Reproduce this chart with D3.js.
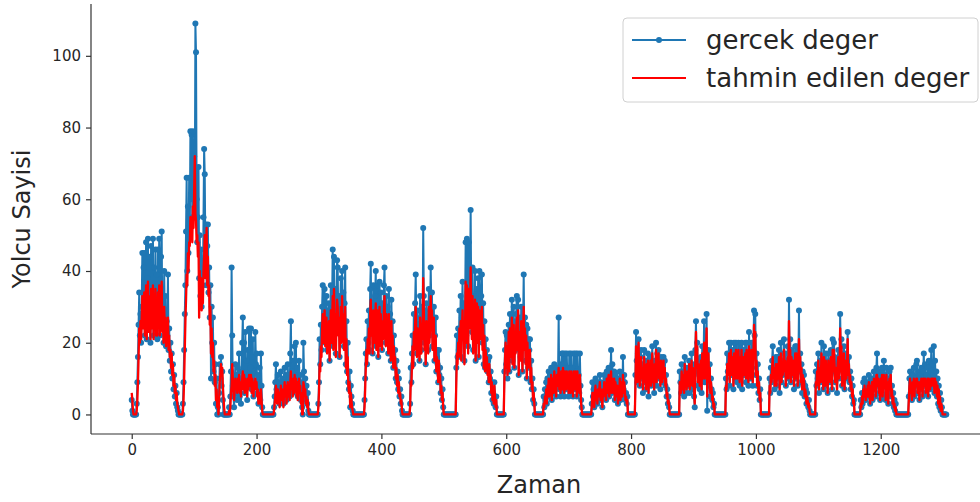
<!DOCTYPE html>
<html>
<head>
<meta charset="utf-8">
<script src="https://cdn.jsdelivr.net/npm/d3@7"></script>
<style>
  html, body { margin: 0; padding: 0; background: #fff; }
  svg { display: block; font-family: "DejaVu Sans", sans-serif; }
</style>
</head>
<body>
<svg id="chart" width="980" height="502"></svg>
<script>
// ---- Data ----
const seriesNames = ["gercek deger", "tahmin edilen deger"];
const xTickValues = [0, 200, 400, 600, 800, 1000, 1200];
const yTickValues = [0, 20, 40, 60, 80, 100];
const xLabel = "Zaman";
const yLabel = "Yolcu Sayisi";

// gercek deger (actual), one value per time step 0..1305
const realValues = [
4,1,0,0,0,0,0,0,3,9,
16,25,34,22,28,20,30,45,26,41,
45,22,33,48,21,38,49,24,44,30,
20,47,27,36,49,22,41,28,46,25,
39,21,46,30,49,22,35,44,51,24,
31,20,40,27,33,19,26,22,39,18,
24,15,20,12,17,10,14,7,11,5,
8,3,6,2,1,0,0,0,0,0,
0,0,3,9,18,28,36,51,66,40,
58,45,66,50,79,60,78,55,79,62,
72,58,109,101,60,48,55,69,38,50,
33,46,30,42,36,55,74,67,44,53,
36,47,53,34,41,27,36,10,30,20,
27,12,20,9,14,3,10,0,2,0,
6,14,10,16,8,12,4,0,0,0,
0,0,0,0,0,0,2,0,5,12,
41,22,8,5,2,9,14,6,11,4,
13,8,17,5,10,3,12,20,27,9,
20,6,23,10,15,4,18,8,24,11,
13,24,7,16,21,5,12,9,23,14,
17,6,11,3,9,13,4,17,8,2,
0,0,0,0,0,0,0,0,0,0,
0,0,0,0,0,0,0,0,2,5,
9,14,7,4,11,6,9,3,8,12,
5,10,7,3,9,13,6,11,4,8,
14,7,10,5,17,26,9,12,6,15,
8,19,11,20,7,13,5,10,15,8,
11,4,9,2,0,20,12,7,10,4,
8,3,6,1,0,0,0,0,0,0,
0,0,0,0,0,0,0,0,0,3,
9,21,14,25,18,30,36,22,28,35,
20,26,33,18,29,24,31,15,27,36,
22,31,46,19,44,28,35,17,30,43,
41,25,33,16,29,38,22,40,27,34,
19,31,41,14,26,12,20,9,7,12,
2,8,5,3,1,0,0,0,0,0,
0,0,0,0,0,0,0,0,0,0,
0,0,0,4,10,17,21,14,26,20,
29,18,35,42,24,31,17,36,28,22,
33,40,19,27,36,16,30,37,21,34,
25,18,31,23,36,41,27,20,33,24,
30,17,35,22,28,15,32,19,26,13,
22,15,18,10,15,9,12,7,10,5,
7,3,5,1,0,0,0,0,0,0,
0,0,0,0,0,0,3,13,9,17,
22,14,28,19,31,39,24,17,29,21,
25,15,33,27,18,30,24,52,33,20,
29,14,31,23,26,18,35,22,27,41,
30,34,19,26,30,15,22,27,12,18,
14,9,18,11,13,6,10,4,7,2,
0,0,0,0,0,0,0,0,0,0,
0,0,0,0,0,0,0,0,0,0,
13,22,16,24,18,29,21,33,16,27,
37,24,31,15,28,48,22,49,34,19,
48,27,36,57,30,23,41,18,33,26,
40,15,29,35,22,38,16,40,27,24,
33,39,20,31,14,26,13,21,16,18,
12,15,9,16,10,12,6,9,4,6,
3,9,5,2,5,0,0,0,0,0,
0,0,0,0,0,0,0,12,18,23,
14,22,10,19,25,12,28,17,21,32,
15,26,30,13,22,18,28,33,20,32,
11,24,27,16,30,22,12,26,39,19,
27,15,25,10,24,13,21,18,21,9,
15,7,10,4,7,3,0,0,0,0,
0,0,0,0,0,0,0,0,0,0,
5,2,7,4,9,3,10,6,12,5,
11,7,13,4,12,9,6,14,8,11,
5,13,9,12,27,7,12,5,14,17,
6,17,10,5,17,12,7,17,9,13,
5,17,11,6,17,8,13,5,17,10,
7,17,12,5,17,9,11,6,17,8,
4,2,0,0,0,0,0,0,0,0,
0,0,0,0,0,0,0,3,9,5,
7,2,8,10,4,7,3,9,5,8,
11,4,9,6,2,8,5,11,7,10,
4,12,6,9,13,5,8,11,18,6,
14,9,7,12,4,11,8,5,10,3,
9,6,12,4,8,11,5,16,7,11,
9,4,6,3,5,0,0,0,0,0,
0,0,0,0,0,0,0,11,23,15,
9,17,21,12,8,16,18,10,14,6,
13,18,9,12,7,15,10,17,5,13,
11,16,8,14,19,9,13,6,15,11,
20,8,17,12,18,10,15,7,16,13,
9,14,16,11,15,8,11,5,7,3,
5,2,0,0,0,0,0,0,0,0,
0,0,0,0,0,0,0,0,12,9,
6,14,10,7,12,5,16,9,13,6,
11,13,8,15,6,12,10,17,7,14,
9,5,2,18,26,12,20,8,15,11,
7,14,16,6,19,10,13,26,9,15,
18,28,1,12,18,8,14,5,10,7,
4,6,2,3,0,0,0,0,0,0,
0,0,0,0,0,0,0,0,0,0,
0,0,10,7,17,12,14,20,8,16,
20,11,13,18,7,20,14,10,20,15,
9,17,20,12,8,19,14,20,7,13,
18,11,16,20,9,20,15,12,8,23,
14,17,10,20,13,8,18,29,22,28,
11,17,8,14,6,10,4,7,0,0,
0,0,0,0,0,0,0,0,0,0,
0,0,10,6,13,9,15,19,11,14,
7,12,16,8,13,16,10,18,6,14,
20,9,15,11,17,21,13,17,8,15,
12,19,10,32,16,21,9,18,14,11,
17,7,13,19,10,19,15,8,14,29,
12,17,9,14,6,12,9,11,5,8,
7,3,6,4,2,4,1,0,0,0,
0,0,0,0,0,0,12,8,14,10,
17,6,13,15,9,20,11,16,7,19,
12,8,17,10,14,6,17,11,15,9,
18,13,7,21,12,20,16,9,14,11,
6,15,18,10,13,28,17,21,8,15,
12,19,7,14,17,10,16,23,11,16,
9,12,7,10,5,8,3,4,0,0,
0,0,0,0,0,0,0,0,4,2,
6,3,9,5,10,7,4,8,6,9,
5,11,7,3,9,6,10,4,8,12,
7,10,5,13,17,8,12,6,10,4,
11,7,13,5,9,15,8,11,4,13,
6,10,3,9,12,7,13,5,8,3,
6,2,4,1,3,0,0,0,0,0,
0,0,0,0,0,0,0,0,0,0,
0,0,0,0,0,5,10,12,6,9,
4,11,7,13,5,10,8,14,15,6,
12,9,4,11,7,13,10,5,12,17,
8,14,6,11,9,13,5,15,10,7,
12,18,8,14,11,19,6,15,9,12,
5,10,3,8,2,6,1,4,2,0,
0,0,0,0,0,0
];

// tahmin edilen deger (predicted), one value per time step 0..1305
const predValues = [
6,4,1,0,0,0,0,0,1,4,
9,16,24,20,26,21,27,33,24,31,
34,22,28,36,21,30,37,23,33,27,
21,35,24,29,36,21,32,25,35,22,
31,22,34,26,36,22,28,33,37,23,
27,20,30,24,27,19,24,20,27,18,
22,16,18,13,17,11,14,8,11,6,
8,4,6,3,2,1,0,0,0,0,
0,0,1,4,10,18,26,32,39,36,
45,40,48,47,55,50,55,48,58,52,
62,72,56,54,48,50,44,48,27,40,
30,38,29,35,31,40,44,50,38,45,
52,36,44,33,36,25,30,17,24,16,
20,12,15,8,11,4,7,2,3,0,
4,9,11,14,12,13,8,5,2,0,
0,0,0,0,0,0,1,0,2,6,
8,14,10,6,4,7,10,8,9,6,
10,7,11,6,9,5,8,10,12,7,
11,6,10,8,9,5,10,7,11,8,
9,11,6,10,9,5,8,7,10,8,
9,5,7,3,5,6,3,7,4,1,
0,0,0,0,0,0,0,0,0,0,
0,0,0,0,0,0,0,0,1,3,
5,8,6,3,7,5,6,2,5,8,
4,7,6,2,6,9,5,8,3,6,
9,5,7,4,9,12,7,9,5,10,
6,11,8,10,5,9,4,7,10,6,
8,3,6,0,0,9,8,5,7,3,
5,2,4,1,0,0,0,0,0,0,
0,0,0,0,0,0,0,0,0,2,
6,14,12,19,16,24,28,20,24,29,
19,22,27,17,24,21,26,15,23,29,
20,25,33,18,35,24,28,16,25,32,
30,22,27,16,24,30,20,33,23,28,
18,25,30,13,21,11,16,8,6,9,
2,6,4,2,1,0,0,0,0,0,
0,0,0,0,0,0,0,0,0,0,
0,0,0,2,7,13,18,14,21,19,
24,17,28,32,22,26,17,29,24,20,
27,31,18,23,29,16,25,30,19,28,
22,18,26,21,29,33,24,19,28,22,
25,17,28,20,23,15,26,18,22,13,
19,14,16,10,13,8,11,6,9,5,
6,3,4,1,0,0,0,0,0,0,
0,0,0,0,0,0,2,9,8,14,
19,13,23,18,25,30,22,16,24,19,
22,15,27,24,17,25,21,38,29,18,
25,14,26,21,23,17,30,20,24,33,
26,29,18,23,27,15,19,22,12,16,
13,9,15,10,11,6,8,4,6,2,
0,0,0,0,0,0,0,0,0,0,
0,0,0,0,0,0,0,0,0,0,
9,17,14,20,16,24,19,26,15,23,
29,21,26,14,24,37,20,36,28,17,
35,24,30,41,26,21,33,17,28,23,
32,15,25,31,20,30,16,29,23,21,
27,30,18,25,13,22,12,18,15,16,
11,14,9,14,9,11,6,9,4,6,
3,8,5,2,4,0,0,0,0,0,
0,0,0,0,0,0,0,9,15,20,
13,19,11,17,23,12,24,16,19,27,
14,22,25,13,20,17,24,27,18,29,
11,21,23,15,26,20,12,22,30,18,
24,14,22,10,20,13,18,16,18,9,
13,7,9,4,6,3,0,0,0,0,
0,0,0,0,0,0,0,0,0,0,
3,2,5,4,7,3,8,5,10,5,
9,6,11,4,10,8,6,12,7,10,
5,11,8,10,13,7,11,6,12,12,
7,13,9,6,12,10,7,12,8,11,
6,12,10,6,12,8,11,5,12,9,
7,12,10,5,12,8,10,6,11,7,
3,1,0,0,0,0,0,0,0,0,
0,0,0,0,0,0,0,2,6,4,
6,2,6,8,4,6,3,7,5,7,
9,4,7,5,2,7,5,9,6,8,
4,10,6,8,11,5,7,9,12,6,
10,8,6,10,4,9,7,5,8,3,
7,5,10,4,7,9,5,11,6,9,
7,4,5,3,4,0,0,0,0,0,
0,0,0,0,0,0,0,8,19,14,
9,15,20,12,8,14,16,10,13,7,
12,16,9,11,7,14,10,15,6,12,
10,15,8,13,17,9,12,7,14,11,
18,9,16,12,17,10,14,8,15,12,
9,13,15,10,13,8,10,5,6,3,
4,2,0,0,0,0,0,0,0,0,
0,0,0,0,0,0,0,0,9,8,
6,12,10,7,11,6,14,9,12,7,
10,12,8,14,7,11,10,15,8,13,
9,6,3,16,23,13,19,9,14,11,
8,13,15,7,17,10,12,20,10,14,
17,24,5,12,17,9,13,6,9,7,
4,5,2,3,0,0,0,0,0,0,
0,0,0,0,0,0,0,0,0,0,
0,0,8,7,14,11,13,17,9,15,
18,11,13,16,8,17,13,10,18,14,
10,15,18,12,9,16,13,18,8,12,
16,11,14,17,10,18,14,12,9,19,
13,15,10,18,12,9,16,25,19,23,
11,15,8,12,6,9,4,6,0,0,
0,0,0,0,0,0,0,0,0,0,
0,0,8,6,11,9,13,16,10,13,
8,11,14,8,12,14,10,16,7,13,
17,9,13,11,15,18,12,15,8,14,
11,16,10,26,15,18,9,16,13,11,
15,8,12,17,10,17,14,8,13,21,
12,16,9,13,7,11,9,10,5,7,
6,3,5,4,2,3,1,0,0,0,
0,0,0,0,0,0,9,8,12,10,
15,7,12,13,9,17,11,14,7,16,
11,8,15,10,13,6,15,11,14,9,
16,12,7,18,12,18,14,9,13,11,
7,14,16,10,12,24,15,19,8,14,
12,17,7,13,15,10,14,21,11,14,
9,11,7,9,5,7,3,4,0,0,
0,0,0,0,0,0,0,0,3,2,
5,3,7,5,8,6,4,7,5,8,
5,9,6,3,8,6,9,4,7,10,
7,9,5,11,11,8,10,6,9,4,
10,7,11,5,8,11,8,10,4,11,
6,9,3,8,10,7,11,5,7,3,
5,2,3,1,2,0,0,0,0,0,
0,0,0,0,0,0,0,0,0,0,
0,0,0,0,0,4,8,10,6,8,
4,9,7,10,5,9,8,10,10,6,
9,8,4,9,7,10,9,5,10,10,
8,10,6,9,8,10,5,10,9,7,
9,10,8,10,9,10,6,10,8,9,
5,8,3,7,2,5,1,3,2,0,
0,0,0,0,0,0
];

// ---- Layout ----
const W = 980, H = 502;
const plot = { left: 91, right: 987, top: 4, bottom: 434 };
const BLUE = "#1f77b4", RED = "#ff0000", INK = "#262626";

const n = realValues.length;
const xMin = 0, xMax = n - 1;
const xPad = (xMax - xMin) * 0.05;
const yMaxData = d3.max(realValues.concat(predValues));
const yPad = yMaxData * 0.05;

const x = d3.scaleLinear().domain([xMin - xPad, xMax + xPad]).range([plot.left, plot.right]);
const y = d3.scaleLinear().domain([0 - yPad, yMaxData + yPad]).range([plot.bottom, plot.top]);

const svg = d3.select("#chart");
svg.append("rect").attr("width", W).attr("height", H).attr("fill", "#fff");

const g = svg.append("g");

// Actual series: line + point markers
const realData = realValues.map((v, i) => [i, v]);
const predData = predValues.map((v, i) => [i, v]);
const line = d3.line().x(d => x(d[0])).y(d => y(d[1]));

g.append("path").datum(realData)
  .attr("d", line).attr("fill", "none")
  .attr("stroke", BLUE).attr("stroke-width", 2).attr("stroke-linejoin", "round");

g.append("g").selectAll("circle").data(realData).join("circle")
  .attr("cx", d => x(d[0])).attr("cy", d => y(d[1])).attr("r", 3)
  .attr("fill", BLUE);

// Predicted series
g.append("path").datum(predData)
  .attr("d", line).attr("fill", "none")
  .attr("stroke", RED).attr("stroke-width", 2.3).attr("stroke-linejoin", "round");

// ---- Axes ----
const xAxis = d3.axisBottom(x).tickValues(xTickValues).tickSize(5).tickPadding(5).tickFormat(d3.format("d"));
const yAxis = d3.axisLeft(y).tickValues(yTickValues).tickSize(5).tickPadding(5).tickFormat(d3.format("d"));

const gx = svg.append("g").attr("transform", `translate(0,${plot.bottom})`).call(xAxis);
const gy = svg.append("g").attr("transform", `translate(${plot.left},0)`).call(yAxis);

[gx, gy].forEach(a => {
  a.select(".domain").attr("stroke", "#333").attr("stroke-width", 1.2);
  a.selectAll(".tick line").attr("stroke", "#333").attr("stroke-width", 1.2);
  a.selectAll(".tick text").attr("fill", INK)
    .style("font-family", "'DejaVu Sans', sans-serif").style("font-size", "15px");
});
gx.select(".domain").attr("d", `M${plot.left},0H${plot.right}`);
gy.select(".domain").attr("d", `M0,${plot.top}V${plot.bottom}`);

// Axis labels
svg.append("text")
  .attr("x", (plot.left + plot.right) / 2).attr("y", 493)
  .attr("text-anchor", "middle").attr("fill", INK)
  .style("font-size", "24px").text(xLabel);

svg.append("text")
  .attr("transform", `translate(30,${(plot.top + plot.bottom) / 2}) rotate(-90)`)
  .attr("text-anchor", "middle").attr("fill", INK)
  .style("font-size", "24px").text(yLabel);

// ---- Legend ----
const lg = svg.append("g").attr("transform", "translate(623,18)");
lg.append("rect").attr("width", 355).attr("height", 84).attr("rx", 4)
  .attr("fill", "#fff").attr("fill-opacity", 0.8).attr("stroke", "#d0d0d0");

const legendItems = [
  { name: seriesNames[0], color: BLUE, marker: true, yy: 22 },
  { name: seriesNames[1], color: RED, marker: false, yy: 60 }
];
legendItems.forEach(it => {
  lg.append("line").attr("x1", 9).attr("x2", 63).attr("y1", it.yy).attr("y2", it.yy)
    .attr("stroke", it.color).attr("stroke-width", 2.2);
  if (it.marker) lg.append("circle").attr("cx", 36).attr("cy", it.yy).attr("r", 3).attr("fill", it.color);
  lg.append("text").attr("x", 83).attr("y", it.yy + 9)
    .attr("fill", INK).style("font-size", "26px").text(it.name);
});
</script>
</body>
</html>
